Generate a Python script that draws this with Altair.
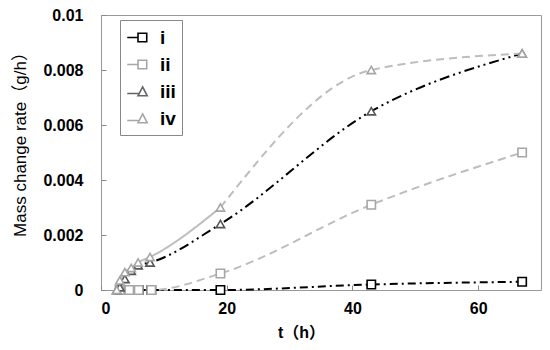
import altair as alt
import pandas as pd

series = ["i", "ii", "iii", "iv"]
t_sq = [3, 4.5, 6, 8, 19, 43, 67]
i_vals = [0, 0, 0, 0, 0, 0.0002, 0.0003]
ii_vals = [0, 0, 0, 0, 0.0006, 0.0031, 0.005]
t_tri = [2.5, 3, 3.8, 4.8, 5.9, 7.8, 19, 43, 67]
iii_vals = [0, 0.0001, 0.0004, 0.0007, 0.0009, 0.001, 0.0024, 0.0065, 0.0086]
iv_vals = [0, 0.00035, 0.00065, 0.0008, 0.001, 0.0012, 0.003, 0.008, 0.0086]
x_ticks = [0, 20, 40, 60]
y_ticks = [0, 0.002, 0.004, 0.006, 0.008, 0.01]
iv_solid_until = 19

rows = []
for s, ts, vs in [("i", t_sq, i_vals), ("ii", t_sq, ii_vals),
                  ("iii", t_tri, iii_vals), ("iv", t_tri, iv_vals)]:
    for t, v in zip(ts, vs):
        rows.append({"series": s, "t": t, "v": v})
df = pd.DataFrame(rows)

line_main = df[(df.series != "iv") | (df.t <= iv_solid_until)]
line_ext = df[(df.series == "iv") & (df.t >= iv_solid_until)]

FONT = "Liberation Sans, Noto Sans CJK SC"
GRAY = "#bdbdbd"
MGRAY = "#a6a6a6"

x_axis = alt.Axis(values=x_ticks, title="t（h）", grid=False, domain=False,
                  offset=-5, tickSize=5, tickColor="#888", tickWidth=1,
                  labelPadding=10, labelFont=FONT, labelFontSize=16,
                  labelFontWeight="bold", labelColor="black",
                  titleFont=FONT, titleFontSize=16, titleFontWeight="bold",
                  titleColor="black", titleX=200, titleY=47,
                  titleBaseline="middle")
y_axis = alt.Axis(values=y_ticks, format=".3~f", title="Mass change rate（g/h）",
                  grid=False, domain=False, offset=-5, tickSize=5,
                  tickColor="#888", tickWidth=1, labelPadding=18,
                  labelFont=FONT, labelFontSize=16, labelFontWeight="bold",
                  labelColor="black", titleFont=FONT, titleFontSize=17,
                  titleFontWeight="normal", titleColor="black",
                  titleX=-86, titleY=125, titleBaseline="middle")

X = alt.X("t:Q", scale=alt.Scale(domain=[0, 70], nice=False), axis=x_axis)
Y = alt.Y("v:Q", scale=alt.Scale(domain=[0, 0.01], nice=False), axis=y_axis)
X2 = alt.X("t:Q", scale=alt.Scale(domain=[0, 70], nice=False))
Y2 = alt.Y("v:Q", scale=alt.Scale(domain=[0, 0.01], nice=False))

lines = alt.Chart(line_main).mark_line(strokeWidth=2, interpolate="monotone").encode(
    x=X, y=Y,
    color=alt.Color("series:N", scale=alt.Scale(domain=series,
                    range=["black", GRAY, "black", GRAY]), legend=None),
    strokeDash=alt.StrokeDash("series:N", scale=alt.Scale(domain=series,
                    range=[[8, 4, 2, 4], [8, 5], [10, 4, 2, 4, 2, 4], [1, 0]]),
                    legend=None),
    detail="series:N",
)

ext = alt.Chart(line_ext).mark_line(strokeWidth=2, interpolate="monotone",
                                    color=GRAY, strokeDash=[8, 5]).encode(
    x=X2, y=Y2)

points = alt.Chart(df).mark_point(filled=False, fill="white", fillOpacity=1,
                                  strokeWidth=1.6, opacity=1).encode(
    x=X2, y=Y2,
    shape=alt.Shape("series:N", scale=alt.Scale(domain=series,
                    range=["square", "square", "triangle-up", "triangle-up"]),
                    legend=None),
    color=alt.Color("series:N", scale=alt.Scale(domain=series,
                    range=["black", MGRAY, "#555555", MGRAY]), legend=None),
    size=alt.Size("series:N", scale=alt.Scale(domain=series,
                  range=[70, 70, 110, 110]), legend=None),
)

sq_path = "M-1,0H0.05M0.05,-0.42H0.9V0.42H0.05Z"
tri_path = "M-1,0.2H0.1M0.5,-0.45L0.95,0.42H0.05Z"
leg = alt.Legend(title=None, orient="none", legendX=19, legendY=5,
                 strokeColor="#888", padding=6, labelFont=FONT,
                 labelFontSize=19, labelFontWeight="bold", labelColor="black",
                 symbolSize=420, symbolStrokeWidth=1.6, symbolOpacity=1,
                 rowPadding=5, labelOffset=11, symbolFillColor="white")
legend_layer = alt.Chart(df).mark_point(filled=False, opacity=0).encode(
    x=X2, y=Y2,
    shape=alt.Shape("series:N", scale=alt.Scale(domain=series,
                    range=[sq_path, sq_path, tri_path, tri_path]), legend=leg),
    color=alt.Color("series:N", scale=alt.Scale(domain=series,
                    range=["black", MGRAY, "#666666", MGRAY]), legend=leg),
)

chart = alt.layer(lines, ext, points, legend_layer).resolve_scale(
    color="independent", shape="independent", strokeDash="independent",
    size="independent"
).properties(
    width=440, height=275,
    padding={"left": 93, "top": 7, "right": 1, "bottom": 52},
    autosize=alt.AutoSizeParams(type="none"),
).configure_view(stroke="#999", strokeWidth=1)

chart.save("out.html", embed_options={"renderer": "svg", "actions": False})
